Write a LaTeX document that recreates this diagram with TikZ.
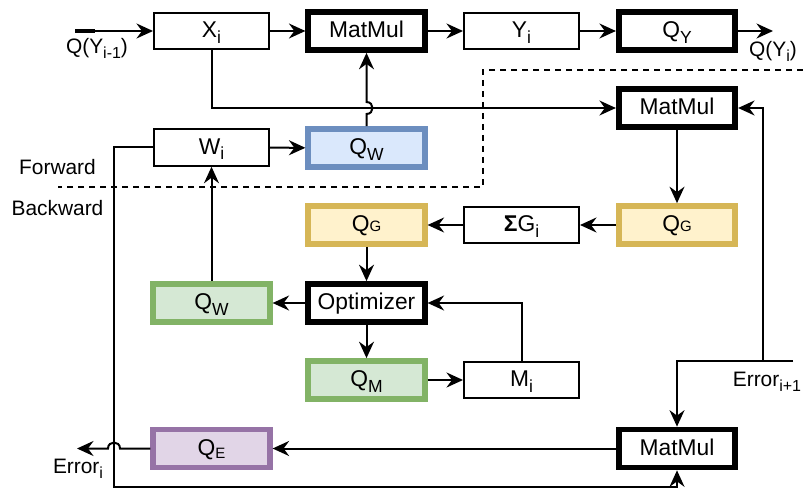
\documentclass[tikz,border=0pt]{standalone}
\usepackage{fontspec}
\setmainfont{Liberation Sans}
\usetikzlibrary{arrows.meta,calc}
\definecolor{bluef}{HTML}{DAE8FC}
\definecolor{blueb}{HTML}{6C8EBF}
\definecolor{yelf}{HTML}{FFF2CC}
\definecolor{yelb}{HTML}{D6B656}
\definecolor{grnf}{HTML}{D5E8D4}
\definecolor{grnb}{HTML}{82B366}
\definecolor{purf}{HTML}{E1D5E7}
\definecolor{purb}{HTML}{9673A6}
\newcommand\bsub[1]{\raisebox{-5.5pt}{\fontsize{17.5}{17.5}\selectfont #1}}
\newcommand\lsub[1]{\raisebox{-5pt}{\fontsize{16}{16}\selectfont #1}}
\begin{document}
\begin{tikzpicture}[x=1pt,y=-1pt,
  box/.style={draw=black, line width=2pt, fill=white, minimum width=115pt, minimum height=36.5pt,
    inner sep=0pt, text height=17pt, text depth=3.5pt, font=\fontsize{22.8}{27}\selectfont},
  thickbox/.style={box, line width=5.7pt, minimum width=116.5pt, minimum height=38pt},
  bluebox/.style={thickbox, draw=blueb, fill=bluef},
  yelbox/.style={thickbox, draw=yelb, fill=yelf},
  grnbox/.style={thickbox, draw=grnb, fill=grnf},
  purbox/.style={thickbox, draw=purb, fill=purf},
  conn/.style={line width=2pt, -{Stealth[length=16.5pt,width=15pt,inset=5.5pt]}},
  sep/.style={line width=2pt, dash pattern=on 6pt off 5pt},
  lbl/.style={font=\fontsize{20.9}{25}\selectfont, inner sep=0pt, anchor=base},
]
\useasboundingbox (0,0) rectangle (803,492);

% nodes
\node[box] (xi) at (211.5,31) {X\bsub{i}};
\node[thickbox] (mm1) at (366.5,31) {MatMul};
\node[box] (yi) at (521.5,31) {Y\bsub{i}};
\node[thickbox] (qy) at (677,31) {Q\bsub{Y}};
\node[thickbox] (mm2) at (677,108) {MatMul};
\node[box] (wi) at (211.5,147.5) {W\bsub{i}};
\node[bluebox] (qwb) at (366.5,148) {Q\bsub{W}};
\node[yelbox] (qgr) at (677,225) {Q{\fontsize{15}{15}\selectfont G}};
\node[box] (sg) at (521.5,225) {{\bfseries Σ}G\bsub{i}};
\node[yelbox] (qgl) at (366.5,225) {Q{\fontsize{15}{15}\selectfont G}};
\node[thickbox] (opt) at (366.5,303) {Optimizer};
\node[grnbox] (qwg) at (211.5,303) {Q\bsub{W}};
\node[grnbox] (qm) at (366.5,380) {Q\bsub{M}};
\node[box] (mi) at (521.5,380) {M\bsub{i}};
\node[purbox] (qe) at (211.5,448.5) {Q{\raisebox{-3pt}{\fontsize{15}{15}\selectfont E}}};
\node[thickbox] (mm3) at (677,448.5) {MatMul};

% labels
\node[lbl] (lin) at (97,54) {Q(Y\lsub{i-1})};
\node[lbl] (lout) at (773,57) {Q(Y\lsub{i})};
\node[lbl] (lfw) at (57.5,175) {Forward};
\node[lbl] (lbw) at (57.5,215) {Backward};
\node[lbl] (lei) at (78,473) {Error\lsub{i}};
\node[lbl] (lei1) at (767,386) {Error\lsub{i+1}};

% coordinates
\coordinate (in) at (75,31);
\coordinate (out) at (773,31);
\coordinate (ha) at (366.5,114);
\coordinate (hb) at (366.5,102);
\coordinate (c1) at (114,487);
\coordinate (e1) at (793,361);
\coordinate (e2) at (763,361);
\coordinate (hc) at (120,448.5);
\coordinate (hd) at (108,448.5);
\coordinate (eo) at (77,448.5);

% separator
\draw[sep] (803,70) -- (483,70) -- (483,187) -- (58,187);

% connectors
\draw[line width=3.5pt] (in) -- ++(20,0);
\draw[conn] (in) -- (xi.west);
\draw[conn] (xi) -- (mm1);
\draw[conn] (mm1) -- (yi);
\draw[conn] (yi) -- (qy);
\draw[conn] (qy.east) -- (out);
\draw[conn] (xi.south) |- (mm2.west);
\draw[conn] (qwb.north) -- (ha) .. controls ($(ha)+(8,0)$) and ($(hb)+(8,0)$) .. (hb) -- (mm1.south);
\draw[conn] (wi) -- (qwb);
\draw[conn] (wi.west) -| (c1) -| (mm3.south);
\draw[conn] (mm2) -- (qgr);
\draw[conn] (qgr) -- (sg);
\draw[conn] (sg) -- (qgl);
\draw[conn] (qgl) -- (opt);
\draw[conn] (opt) -- (qwg);
\draw[conn] (qwg) -- (wi);
\draw[conn] (opt) -- (qm);
\draw[conn] (qm) -- (mi);
\draw[conn] (mi.north) |- (opt.east);
\draw[conn] (e1) -| (mm3.north);
\draw[conn] (e2) |- (mm2.east);
\draw[conn] (mm3) -- (qe);
\draw[conn] (qe.west) -- (hc) .. controls ($(hc)+(0,-8)$) and ($(hd)+(0,-8)$) .. (hd) -- (eo);
\end{tikzpicture}
\end{document}
